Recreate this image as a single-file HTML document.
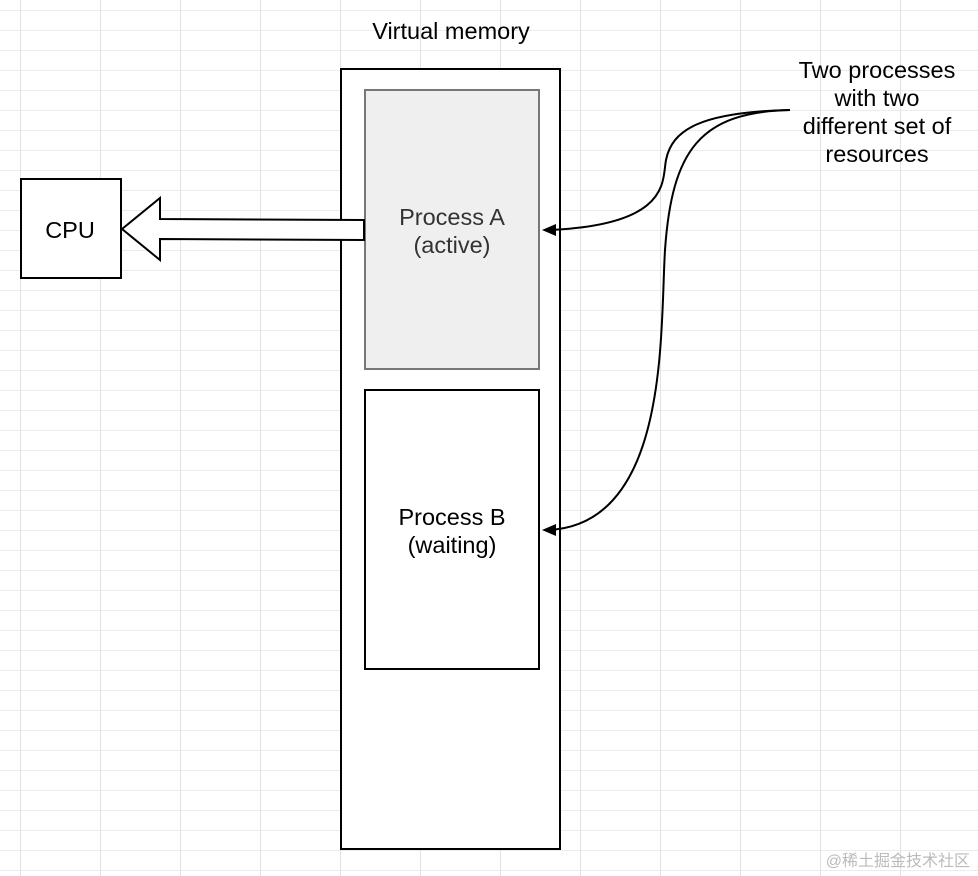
<!DOCTYPE html>
<html><head><style>
html,body{margin:0;padding:0;background:#fff;}
svg{display:block;}
text{font-family:"Liberation Sans",Arial,sans-serif;font-size:23.5px;fill:#000;}
</style></head><body>
<svg width="978" height="876" viewBox="0 0 978 876" xmlns="http://www.w3.org/2000/svg">
<defs>
<pattern id="gh" x="0" y="10" width="978" height="20" patternUnits="userSpaceOnUse">
<line x1="0" y1="0.5" x2="978" y2="0.5" stroke="#ececec" stroke-width="1"/>
</pattern>
<pattern id="gv" x="20" y="0" width="80" height="876" patternUnits="userSpaceOnUse">
<line x1="0.5" y1="0" x2="0.5" y2="876" stroke="#e2e2e2" stroke-width="1"/>
</pattern>
</defs>
<rect width="978" height="876" fill="url(#gh)"/>
<rect width="978" height="876" fill="url(#gv)"/>

<text x="451" y="39" text-anchor="middle">Virtual memory</text>
<rect x="341" y="69" width="219" height="780" fill="#fff" stroke="#000" stroke-width="2"/>
<rect x="365" y="90" width="174" height="279" fill="#efefef" stroke="#777" stroke-width="2"/>
<text x="452" y="225" text-anchor="middle" style="fill:#333">Process A</text>
<text x="452" y="253" text-anchor="middle" style="fill:#333">(active)</text>
<rect x="365" y="390" width="174" height="279" fill="#fff" stroke="#000" stroke-width="2"/>
<text x="452" y="525" text-anchor="middle">Process B</text>
<text x="452" y="553" text-anchor="middle">(waiting)</text>

<rect x="21" y="179" width="100" height="99" fill="#fff" stroke="#000" stroke-width="2"/>
<text x="70" y="238" text-anchor="middle">CPU</text>

<path d="M364,220 L160,219 L160,198 L122,229 L160,260 L160,239 L364,240 Z" fill="#fff" stroke="#000" stroke-width="2"/>

<text x="877" y="78" text-anchor="middle">Two processes</text>
<text x="877" y="106" text-anchor="middle">with two</text>
<text x="877" y="134" text-anchor="middle">different set of</text>
<text x="877" y="162" text-anchor="middle">resources</text>

<path d="M790,110 C700,112 672,130 666,160 C662,180 672,225 548,230" fill="none" stroke="#000" stroke-width="2"/>
<path d="M556,224 L542,230 L556,236 Z" fill="#000"/>
<path d="M790,110 C700,112 672,150 665,250 C660,330 670,525 548,530" fill="none" stroke="#000" stroke-width="2"/>
<path d="M556,524 L542,530 L556,536 Z" fill="#000"/>

<text x="970" y="866" text-anchor="end" style="font-size:16px;fill:#bbb;font-family:'Liberation Sans','Noto Sans CJK SC',sans-serif">@稀土掘金技术社区</text>
</svg>
</body></html>
